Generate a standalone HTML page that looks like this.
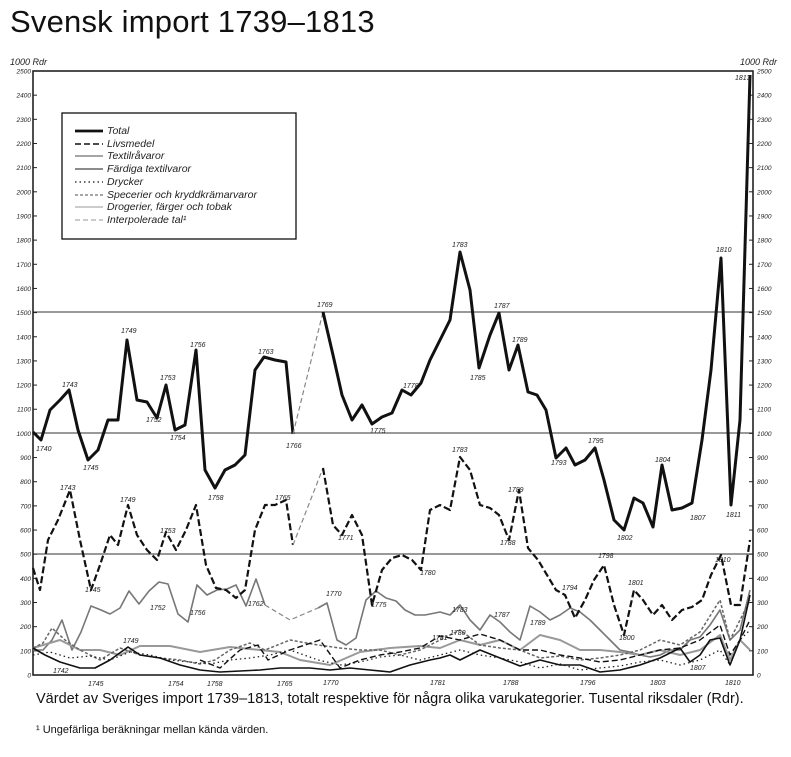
<!DOCTYPE html>
<html><head><meta charset="utf-8"><style>
body{margin:0;background:#fff;width:791px;height:757px;overflow:hidden;font-family:"Liberation Sans",sans-serif}
.t{position:absolute;left:10px;top:4px;font-size:31px;color:#111;letter-spacing:0.2px}
.c{position:absolute;left:36px;top:691px;font-size:14.5px;color:#111}
.f{position:absolute;left:36px;top:724px;font-size:11px;color:#111}
svg{position:absolute;left:0;top:0}
svg text{font-family:"Liberation Sans",sans-serif;font-style:italic;fill:#222}
</style></head><body>
<div class="t">Svensk import 1739–1813</div>
<svg width="791" height="757" id="s">
<text x="10" y="65" font-size="9">1000 Rdr</text>
<text x="740" y="65" font-size="9">1000 Rdr</text>
<rect x="33" y="71" width="720" height="604" fill="none" stroke="#222" stroke-width="1.6"/>
<g stroke="#333" stroke-width="0.9">
<line x1="33" y1="433" x2="753" y2="433"/><line x1="33" y1="312" x2="753" y2="312"/><line x1="33" y1="554" x2="753" y2="554"/>
</g>
<g id="ticks" font-size="6.5"></g>
<rect x="62" y="113" width="234" height="126" fill="#fff" stroke="#111" stroke-width="1.3"/>
<g stroke="#111">
<line x1="75" y1="131" x2="103" y2="131" stroke-width="2.8"/>
<line x1="75" y1="144" x2="103" y2="144" stroke-width="1.6" stroke-dasharray="6,3"/>
<line x1="75" y1="156" x2="103" y2="156" stroke-width="0.8"/>
<line x1="75" y1="169" x2="103" y2="169" stroke="#666" stroke-width="1.6"/>
<line x1="75" y1="182" x2="103" y2="182" stroke-width="1.3" stroke-dasharray="1.5,3"/>
<line x1="75" y1="195" x2="103" y2="195" stroke="#888" stroke-width="1.4" stroke-dasharray="3,2"/>
<line x1="75" y1="207" x2="103" y2="207" stroke="#777" stroke-width="0.8"/>
<line x1="75" y1="220" x2="103" y2="220" stroke="#777" stroke-width="0.8" stroke-dasharray="5,3"/>
</g>
<g font-size="10.5">
<text x="107" y="134">Total</text><text x="107" y="147">Livsmedel</text><text x="107" y="159">Textilråvaror</text>
<text x="107" y="172">Färdiga textilvaror</text><text x="107" y="185">Drycker</text>
<text x="107" y="198">Specerier och kryddkrämarvaror</text><text x="107" y="210">Drogerier, färger och tobak</text>
<text x="107" y="223">Interpolerade tal¹</text>
</g>
<g fill="none" stroke-linejoin="round">
<!-- textilravaror -->
<polyline stroke="#777" stroke-width="1.6" points="33,650 43,650 52,640 62,620 72,650 81,632 91,606 101,610 110,614 120,608 129,591 139,604 149,591 159,582 168,584 178,614 188,622 197,585 207,595 217,590 227,589 236,585 246,606 256,579 265,605"/>
<polyline stroke="#888" stroke-width="1.2" stroke-dasharray="5,3" points="265,605 290,620 318,608"/>
<polyline stroke="#777" stroke-width="1.6" points="318,608 327,603 337,640 346,645 356,638 366,600 376,591 386,598 396,601 405,610 415,615 425,615 440,612 450,615 460,605 470,620 480,630 490,615 500,622 510,632 520,640 530,606 540,612 550,620 560,615 570,608 580,612 590,620 600,630 610,640 620,650 630,652 640,655 650,657 660,655 670,650 680,650 690,640 700,637 710,625 720,610 730,640 740,630 750,590"/>
<!-- fardiga -->
<polyline stroke="#999" stroke-width="2" points="33,648 60,640 80,650 100,650 120,655 140,646 170,646 200,652 230,647 260,650 280,652 300,660 330,665 360,652 390,648 420,646 440,648 460,640 480,645 500,640 520,650 540,635 560,640 580,650 600,650 620,652 640,655 660,650 680,655 700,650 720,635 730,660 740,640 750,650"/>
<!-- specerier -->
<polyline stroke="#666" stroke-width="1.5" stroke-dasharray="3,2" points="33,648 43,643 52,628 65,640 80,650 100,660 120,648 140,655 160,658 180,660 200,664 215,660 230,650 250,643 265,650 290,640 318,645 340,648 360,650 380,650 400,655 420,650 440,640 460,630 480,645 500,648 520,650 540,658 560,656 580,660 600,658 620,655 640,650 660,640 680,645 700,632 720,600 730,640 740,620 750,600"/>
<!-- drycker -->
<polyline stroke="#222" stroke-width="1.3" stroke-dasharray="1.5,3" points="33,655 50,652 70,658 90,656 110,660 130,652 150,655 170,660 190,662 210,664 230,660 250,658 270,655 290,650 318,660 340,665 360,662 380,657 400,655 420,660 440,655 460,650 480,655 500,658 520,662 540,668 560,664 580,670 600,668 620,666 640,662 660,660 680,665 700,660 720,650 730,665 740,640 750,630"/>
<!-- drogerier -->
<polyline stroke="#111" stroke-width="1.6" points="33,648 45,655 60,662 80,668 95,668 110,660 128,647 140,655 160,658 180,665 200,670 220,672 240,671 260,670 280,668 310,668 330,670 350,668 370,670 390,672 410,665 430,660 440,658 450,655 460,660 480,650 500,658 510,662 520,666 540,660 560,665 580,665 600,672 620,670 640,665 660,658 680,648 690,662 700,655 710,640 720,638 730,665 740,640 750,595"/>
<polyline stroke="#111" stroke-width="1.4" stroke-dasharray="6,3" points="200,660 220,668 240,650 258,645 268,660 290,650 320,640 340,668 360,660 380,655 400,652 420,648 440,636 460,640 480,634 500,640 520,650 540,650 560,655 580,658 600,662 620,660 640,655 660,650 680,648 700,640 720,625 730,655 740,640 750,620"/>
<!-- livsmedel -->
<polyline stroke="#111" stroke-width="2.2" stroke-dasharray="7,3" points="33,568 40,590 48,540 58,520 70,490 80,540 91,590 100,565 110,535 118,545 128,505 137,535 147,550 157,560 166,532 176,550 186,530 196,505 206,565 216,588 226,590 236,598 245,590 255,530 265,505 275,505 286,500 293,545"/>
<polyline stroke="#888" stroke-width="1.2" stroke-dasharray="5,3" points="293,545 323,468"/>
<polyline stroke="#111" stroke-width="2.2" stroke-dasharray="7,3" points="323,468 333,525 342,535 352,515 362,535 372,605 382,570 392,558 402,555 412,560 421,570 430,510 440,505 450,510 460,457 470,470 480,505 490,508 499,515 509,540 519,490 528,548 538,560 547,575 556,590 565,595 575,618 585,600 594,580 604,565 614,605 624,635 634,590 643,600 653,615 662,605 672,620 682,610 692,607 702,600 711,575 721,555 731,605 740,605 750,540"/>
<!-- total -->
<polyline stroke="#111" stroke-width="3" points="33,432 41,440 50,410 60,400 69,390 78,430 88,460 98,450 108,420 118,420 127,340 137,400 147,402 157,418 166,385 175,430 185,425 196,350 205,470 215,488 225,470 235,465 245,455 255,370 264,357 275,360 286,362 293,434"/>
<polyline stroke="#888" stroke-width="1.2" stroke-dasharray="5,3" points="293,434 323,312"/>
<polyline stroke="#111" stroke-width="3" points="323,312 333,355 342,395 352,420 362,405 372,424 382,417 392,413 402,390 411,395 421,383 430,360 440,340 450,320 460,252 470,290 479,368 490,335 499,313 509,370 518,345 528,392 537,395 546,410 556,458 566,448 575,465 585,460 595,448 604,480 614,520 624,530 634,498 643,503 653,527 662,465 672,510 682,508 692,503 702,440 711,370 721,258 731,505 740,420 750,75"/>
</g>
<g font-size="7">
<text x="36" y="451">1740</text><text x="62" y="387">1743</text><text x="83" y="470">1745</text><text x="121" y="333">1749</text><text x="146" y="422">1752</text><text x="160" y="380">1753</text><text x="170" y="440">1754</text><text x="190" y="347">1756</text><text x="208" y="500">1758</text><text x="258" y="354">1763</text><text x="286" y="448">1766</text><text x="317" y="307">1769</text><text x="370" y="433">1775</text><text x="403" y="388">1778</text><text x="452" y="247">1783</text><text x="470" y="380">1785</text><text x="494" y="308">1787</text><text x="512" y="342">1789</text><text x="551" y="465">1793</text><text x="588" y="443">1795</text><text x="617" y="540">1802</text><text x="655" y="462">1804</text><text x="690" y="520">1807</text><text x="716" y="252">1810</text><text x="726" y="517">1811</text><text x="735" y="80">1813</text>
<text x="60" y="490">1743</text><text x="85" y="592">1745</text><text x="120" y="502">1749</text><text x="160" y="533">1753</text><text x="275" y="500">1765</text><text x="338" y="540">1771</text><text x="420" y="575">1780</text><text x="452" y="452">1783</text><text x="500" y="545">1788</text><text x="508" y="492">1789</text><text x="562" y="590">1794</text><text x="598" y="558">1798</text><text x="628" y="585">1801</text><text x="619" y="640">1800</text><text x="715" y="562">1810</text>
<text x="150" y="610">1752</text><text x="190" y="615">1756</text><text x="248" y="606">1762</text><text x="326" y="596">1770</text><text x="371" y="607">1775</text><text x="452" y="612">1783</text><text x="494" y="617">1787</text><text x="530" y="625">1789</text><text x="123" y="643">1749</text><text x="53" y="673">1742</text><text x="432" y="640">1781</text><text x="450" y="635">1780</text><text x="690" y="670">1807</text>
<text x="88" y="686">1745</text><text x="168" y="686">1754</text><text x="207" y="686">1758</text><text x="277" y="686">1765</text><text x="323" y="685">1770</text><text x="430" y="685">1781</text><text x="503" y="685">1788</text><text x="580" y="685">1796</text><text x="650" y="685">1803</text><text x="725" y="685">1810</text>
</g>
</svg>
<div class="c">Värdet av Sveriges import 1739–1813, totalt respektive för några olika varukategorier. Tusental riksdaler (Rdr).</div>
<div class="f">¹ Ungefärliga beräkningar mellan kända värden.</div>
<script>
var g=document.getElementById('ticks'),h='';
for(var v=0;v<=2500;v+=100){var y=675-v*604/2500;
h+='<line x1="33" y1="'+y+'" x2="37" y2="'+y+'" stroke="#222"/><line x1="749" y1="'+y+'" x2="753" y2="'+y+'" stroke="#222"/>';
h+='<text x="31" y="'+(y+2.5)+'" text-anchor="end">'+v+'</text><text x="757" y="'+(y+2.5)+'">'+v+'</text>';}
g.innerHTML=h;
</script>
</body></html>
